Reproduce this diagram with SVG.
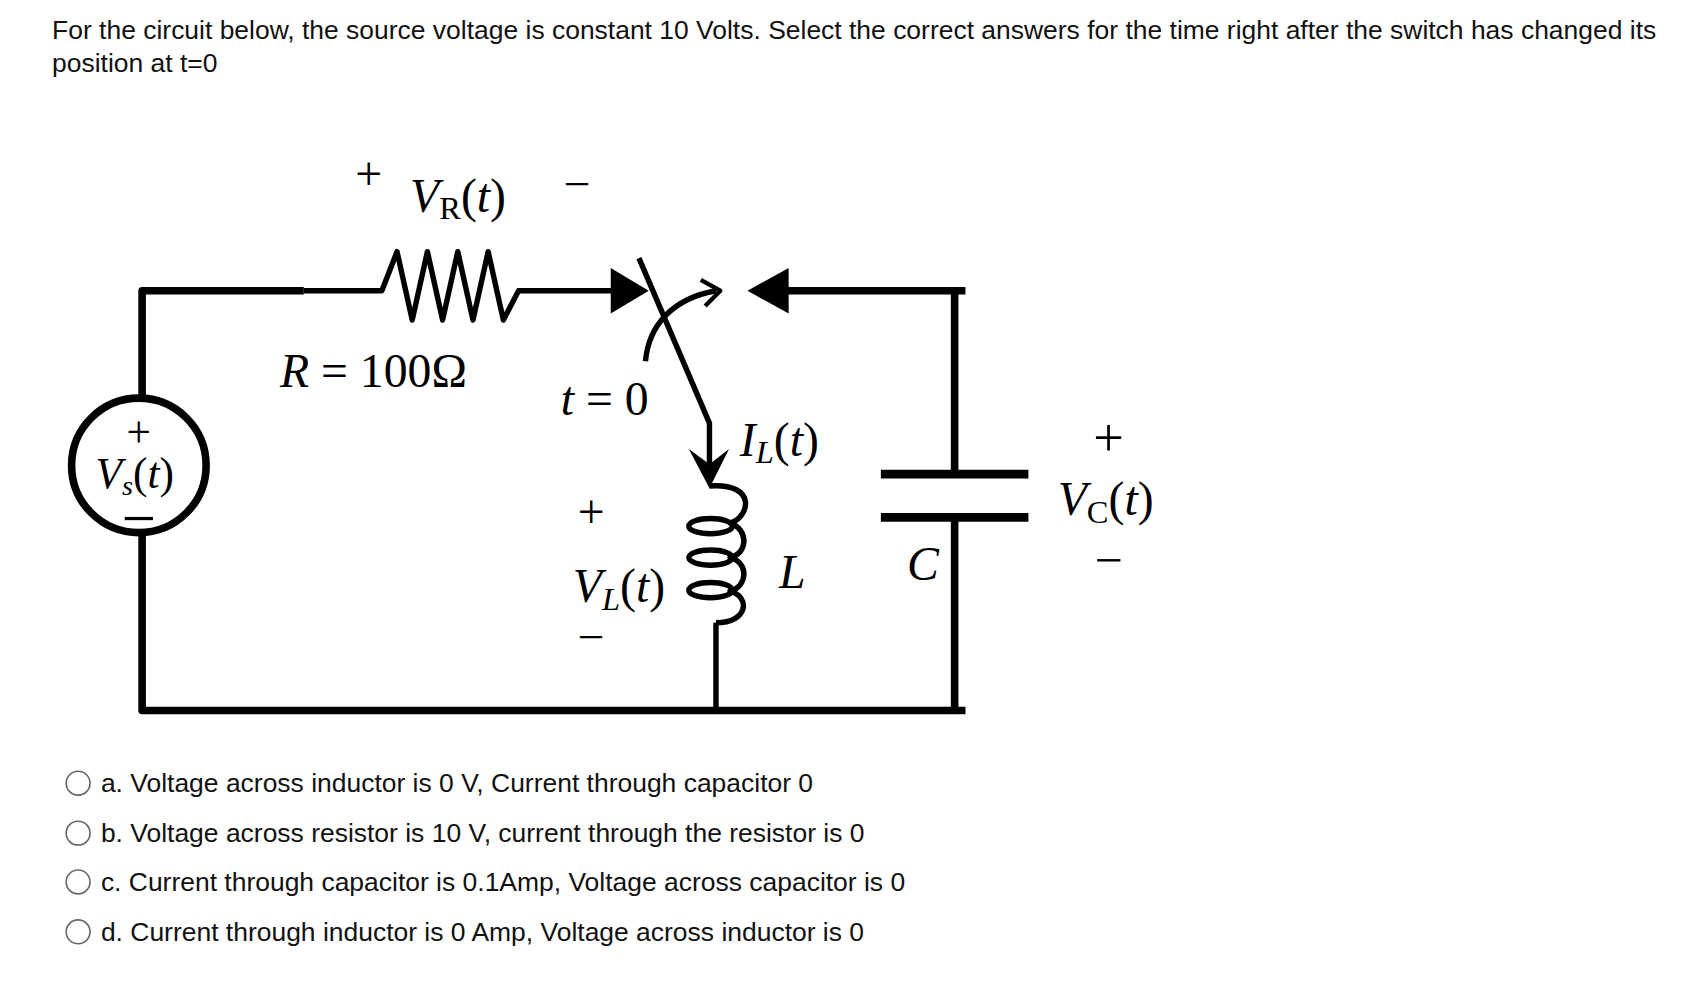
<svg xmlns="http://www.w3.org/2000/svg" width="1688" height="982" viewBox="0 0 1688 982">
<style>
.t{font-family:"Liberation Sans",Arial,sans-serif;font-size:24.4px;fill:#111}
.m{font-family:"Liberation Serif","DejaVu Serif",serif;font-style:italic;font-size:44px;fill:#000}
.r{font-family:"Liberation Serif","DejaVu Serif",serif;font-size:44px;fill:#000}
.w{fill:none;stroke:#000;stroke-width:7;stroke-linejoin:round;stroke-linecap:butt}
.opt{fill:#fff;stroke:#666;stroke-width:1.5}
</style>
<rect width="1688" height="982" fill="#fff"/>
<g transform="scale(1.0848)">
<g id="title">
<text class="t" x="48" y="36">For the circuit below, the source voltage is constant 10 Volts. Select the correct answers for the time right after the switch has changed its</text>
<text class="t" x="48" y="66">position at t=0</text>
</g>
<g id="connectors">
<path class="w" d="M131,365 V268 H280"/>
<path class="w" style="stroke-width:5" d="M280,268 H352 L366,232 L380,295 L394,232 L408,295 L422,232 L436,295 L450,232 L464,295 L478,268 H570"/>
<path d="M563,247 L598,268 L563,289 Z" fill="#000"/>
<path class="w" d="M131,492 V655 H890"/>
<path class="w" d="M890,268 H722"/>
<path d="M727,247 L689,268 L727,289 Z" fill="#000"/>
<path class="w" d="M880,268 V436 M880,478 V655"/>
<path class="w" style="stroke-width:8" d="M812,437 H948 M812,477 H948"/>
<path class="w" style="stroke-width:5" d="M660,574 V655"/>
</g>
<g id="switch">
<path class="w" style="stroke-width:5" d="M589,238 L654,390 V440"/>
<path d="M654,450 L635,414 L654,428 L672,414 Z" fill="#000"/>
<path class="w" style="stroke-width:5" d="M595,333 C598,300 620,275 660,268"/>
<path class="w" style="stroke-width:4" d="M646,258 L664,268 L650,282"/>
</g>
<g id="inductor">
<path class="w" style="stroke-width:5" d="M654,448 C700,445 690,478 673,482 C690,488 690,510 673,514 C690,518 690,540 673,545 C692,550 690,574 660,574"/>
<ellipse cx="655" cy="485" rx="20" ry="7" fill="none" stroke="#000" stroke-width="5"/>
<ellipse cx="655" cy="514" rx="20" ry="7" fill="none" stroke="#000" stroke-width="5"/>
<ellipse cx="655" cy="544" rx="20" ry="7" fill="none" stroke="#000" stroke-width="5"/>
</g>
<g id="source">
<circle cx="128" cy="429" r="62" fill="#fff" stroke="#000" stroke-width="7"/>
<text class="r" x="128" y="412" text-anchor="middle" style="font-size:40px">+</text>
<text class="m" x="88" y="450" style="font-size:40px">V<tspan style="font-size:26px" dy="6">s</tspan><tspan dy="-6" style="font-style:normal">(</tspan>t<tspan style="font-style:normal">)</tspan></text>
<path d="M115,478 H141" stroke="#000" stroke-width="3"/>
</g>
<g id="labels">
<text class="r" x="340" y="175" text-anchor="middle">+</text>
<text class="m" x="378" y="195">V<tspan style="font-size:30px" dy="7" font-style="normal">R</tspan><tspan dy="-7" style="font-style:normal">(</tspan>t<tspan style="font-style:normal">)</tspan></text>
<text class="r" x="532" y="184" text-anchor="middle">−</text>
<text class="m" x="258" y="357">R <tspan style="font-style:normal">= 100Ω</tspan></text>
<text class="m" x="517" y="383">t <tspan style="font-style:normal">= 0</tspan></text>
<text class="m" x="682" y="420">I<tspan style="font-size:30px" dy="7">L</tspan><tspan dy="-7" style="font-style:normal">(</tspan>t<tspan style="font-style:normal">)</tspan></text>
<text class="r" x="545" y="487" text-anchor="middle">+</text>
<text class="m" x="528" y="555">V<tspan style="font-size:30px" dy="7">L</tspan><tspan dy="-7" style="font-style:normal">(</tspan>t<tspan style="font-style:normal">)</tspan></text>
<text class="r" x="545" y="602" text-anchor="middle">−</text>
<text class="m" x="718" y="542">L</text>
<text class="m" x="836" y="535">C</text>
<text class="r" x="1022" y="420" text-anchor="middle" style="font-size:50px">+</text>
<text class="m" x="975" y="475">V<tspan style="font-size:30px" dy="7" font-style="normal">C</tspan><tspan dy="-7" style="font-style:normal">(</tspan>t<tspan style="font-style:normal">)</tspan></text>
<text class="r" x="1022" y="532" text-anchor="middle" style="font-size:46px">−</text>
</g>
<g id="options">
<circle class="opt" cx="72" cy="722" r="11"/>
<text class="t" x="93" y="730">a. Voltage across inductor is 0 V, Current through capacitor 0</text>
<circle class="opt" cx="72" cy="768" r="11"/>
<text class="t" x="93" y="776">b. Voltage across resistor is 10 V, current through the resistor is 0</text>
<circle class="opt" cx="72" cy="813" r="11"/>
<text class="t" x="93" y="821">c. Current through capacitor is 0.1Amp, Voltage across capacitor is 0</text>
<circle class="opt" cx="72" cy="859" r="11"/>
<text class="t" x="93" y="867">d. Current through inductor is 0 Amp, Voltage across inductor is 0</text>
</g>
</g>
</svg>
